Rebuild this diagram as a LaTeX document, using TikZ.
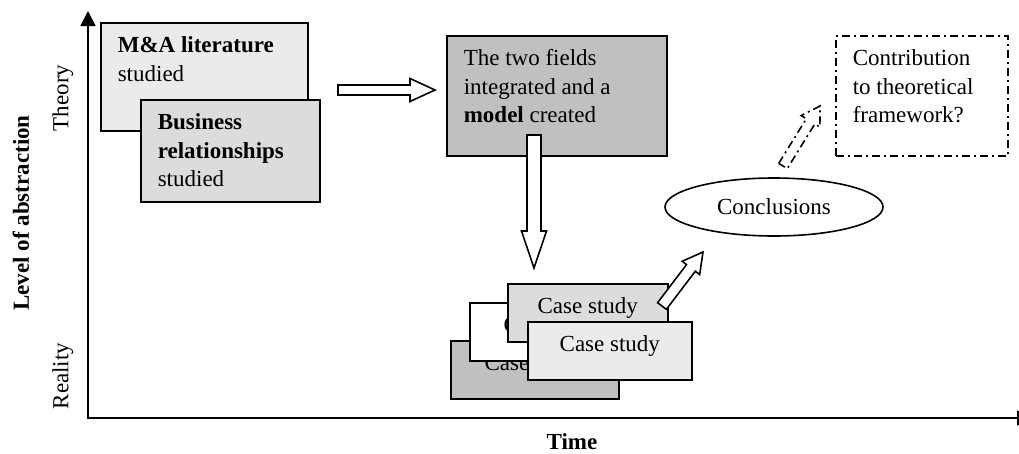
\documentclass[tikz,border=0pt]{standalone}
\usepackage{fontspec}
\setmainfont{Liberation Serif}
\usetikzlibrary{arrows.meta,calc,shapes.geometric}

\definecolor{paleA}{HTML}{EBEBEB}
\definecolor{paleB}{HTML}{DCDCDC}
\definecolor{midgray}{HTML}{C0C0C0}

% text block of given width/height, set at the top of its box
\newcommand\boxtxt[3]{\parbox[c][#2][t]{#1}{\raggedright #3}}
\newcommand\boxtxtc[3]{\parbox[c][#2][t]{#1}{\centering #3}}

% hollow block arrow: [style]{from}{to}{shaft half width}{head half width}{head length}
\newcommand\blockarrow[6][]{%
  \path ($(#3)!#6!(#2)$) coordinate (ba-h);
  \draw[#1] ($(#2)!#4!90:(#3)$) -- ($(ba-h)!#4!90:(#3)$) -- ($(ba-h)!#5!90:(#3)$)
    -- (#3) -- ($(ba-h)!#5!-90:(#3)$) -- ($(ba-h)!#4!-90:(#3)$) -- ($(#2)!#4!-90:(#3)$) -- cycle;
}

\tikzset{
  every node/.style={font=\fontsize{23}{28.5}\selectfont},
  edge line/.style={line width=1.6pt, line join=miter},
  tbox/.style={draw, edge line, anchor=north west, inner xsep=17pt, inner ysep=14pt},
  casebox/.style={tbox},
  axisline/.style={line width=1.8pt, -{Triangle[length=15pt,width=15pt]}},
  hollow/.style={draw, fill=white, line width=1.6pt, line join=miter},
  dashdotted line/.style={line width=1.6pt, dash pattern=on 8pt off 4pt on 2pt off 4pt},
  axislabel/.style={font=\fontsize{23}{28.5}\selectfont\bfseries},
}

\begin{document}
\begin{tikzpicture}[x=1pt,y=-1pt]
  \useasboundingbox (0,0) rectangle (1019,453);

  % axes
  \coordinate (origin) at (88,419);
  \coordinate (ytop) at (88,11);
  \coordinate (xstart) at (87,418);
  \coordinate (xend) at (1032,418);
  \draw[axisline] (origin) -- (ytop);
  \begin{scope}
    \clip (0,0) rectangle (1019,453);
    \draw[axisline] (xstart) -- (xend);
  \end{scope}

  \node[rotate=90] (theory) at (63,98) {Theory};
  \node[rotate=90] (reality) at (63,376) {Reality};
  \node[rotate=90, axislabel] (abstr) at (21,213) {Level of abstraction};
  \node[axislabel] (time) at (572,442) {Time};

  % theory side
  \node[tbox, fill=paleA] (ma) at (100,22)
    {\boxtxt{173pt}{80pt}{\textbf{M\&A literature}\\studied}};
  \node[tbox, fill=paleB] (br) at (140,99)
    {\boxtxt{145pt}{74pt}{\textbf{Business}\\\textbf{relationships}\\studied}};

  \coordinate (h-tail) at (338,90);
  \coordinate (h-tip) at (435,90);
  \blockarrow[hollow]{h-tail}{h-tip}{5pt}{11.5pt}{25pt}

  \node[tbox, fill=midgray] (model) at (446,35)
    {\boxtxt{186pt}{92pt}{The two fields\\integrated and a\\\textbf{model} created}};

  \coordinate (d-tail) at (534,135);
  \coordinate (d-tip) at (534,268);
  \blockarrow[hollow]{d-tail}{d-tip}{7pt}{12.5pt}{37pt}

  % case studies
  \node[casebox, fill=midgray] (cs1) at (450,340) {\boxtxtc{134pt}{30pt}{Case study}};
  \node[casebox, fill=white] (cs2) at (469,302) {\boxtxtc{134pt}{30pt}{Case study}};
  \node[casebox, fill=paleB] (cs3) at (507,283) {\boxtxtc{126pt}{30pt}{Case study}};
  \node[casebox, fill=paleA] (cs4) at (527,321) {\boxtxtc{130pt}{30pt}{Case study}};

  \coordinate (u-tail) at (662,306);
  \coordinate (u-tip) at (703,252);
  \blockarrow[hollow]{u-tail}{u-tip}{5.5pt}{11pt}{20pt}

  \node[ellipse, draw, edge line, minimum width=218pt, minimum height=58pt, inner sep=0pt]
    (concl) at (774,207) {Conclusions};

  \coordinate (c-tail) at (783,166);
  \coordinate (c-tip) at (820,106);
  \blockarrow[dashdotted line]{c-tail}{c-tip}{5pt}{11pt}{18pt}

  \node[tbox, dashdotted line] (contrib) at (835,35)
    {\boxtxt{138pt}{92pt}{Contribution\\to theoretical\\framework?}};
\end{tikzpicture}
\end{document}
